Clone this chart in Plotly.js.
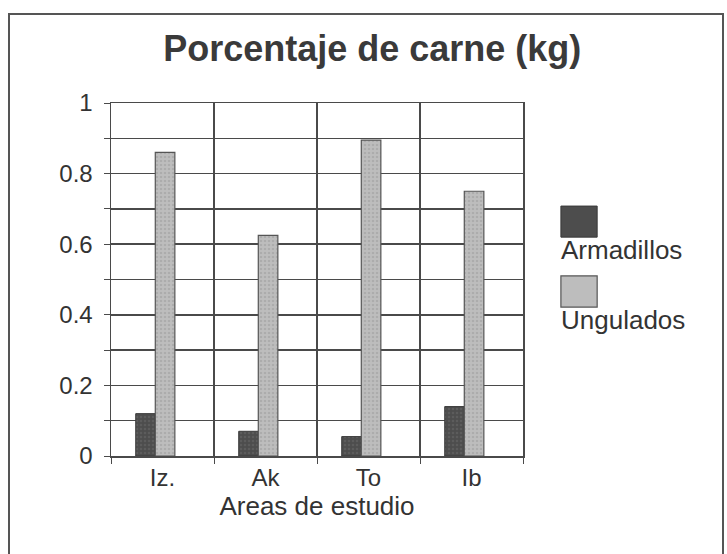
<!DOCTYPE html>
<html>
<head>
<meta charset="utf-8">
<script src="https://cdn.plot.ly/plotly-3.0.1.min.js"></script>
<style>
html,body{margin:0;padding:0;background:#fff;}
#frame{position:absolute;left:8px;top:13px;width:716px;height:545px;border:2px solid #555;box-sizing:border-box;}
#chart{position:absolute;left:0;top:0;width:727px;height:554px;}
</style>
</head>
<body>
<div id="frame"></div>
<div id="chart"></div>
<script>
const categories = ["Iz.", "Ak", "To", "Ib"];
const armadillos = [0.12, 0.07, 0.055, 0.14];
const ungulados = [0.86, 0.625, 0.895, 0.75];
const seriesNames = ["Armadillos", "Ungulados"];
const yGridVals = [0, 0.1, 0.2, 0.3, 0.4, 0.5, 0.6, 0.7, 0.8, 0.9, 1];
const yTickText = ["0", "", "0.2", "", "0.4", "", "0.6", "", "0.8", "", "1"];

const darkColor = "#4d4d4d";
const lightColor = "#bdbdbd";
const txt = "#333333";
const grid = "#4a4a4a";
const font = "Liberation Sans, Arial, sans-serif";

const traces = [
  {type: "bar", x: categories, y: armadillos, name: seriesNames[0],
   width: 0.19, offset: -0.26,
   marker: {color: darkColor, line: {color: "#3a3a3a", width: 1},
            pattern: {shape: ".", fillmode: "overlay", fgcolor: "#6a6a6a", size: 4, solidity: 0.3}}},
  {type: "bar", x: categories, y: ungulados, name: seriesNames[1],
   width: 0.19, offset: -0.07,
   marker: {color: lightColor, line: {color: "#555555", width: 1.2},
            pattern: {shape: ".", fillmode: "overlay", fgcolor: "#9a9a9a", size: 4, solidity: 0.3}}}
];

const layout = {
  width: 727, height: 554,
  paper_bgcolor: "rgba(0,0,0,0)", plot_bgcolor: "#fff",
  margin: {l: 111, r: 204, t: 103, b: 98},
  showlegend: false,
  font: {family: font, color: txt, size: 24},
  title: {text: "<b>Porcentaje de carne (kg)</b>", font: {family: font, size: 36, color: "#3a3a3a"},
          x: 0.512, xanchor: "center", xref: "container", y: 0.913, yanchor: "middle", yref: "container"},
  xaxis: {type: "category", tickson: "boundaries", showgrid: true, gridcolor: grid, gridwidth: 1.5,
          ticks: "outside", ticklen: 6, tickcolor: grid, showline: true, linecolor: grid, linewidth: 1.5, mirror: true,
          tickfont: {size: 24, color: txt},
          title: {text: "Areas de estudio", font: {size: 26, color: txt}, standoff: 2}},
  yaxis: {range: [0, 1], tickvals: yGridVals, ticktext: yTickText, showgrid: true, gridcolor: grid, gridwidth: 1.5,
          ticks: "outside", ticklen: 6, tickcolor: grid, zeroline: false,
          showline: true, linecolor: grid, linewidth: 1.5, mirror: true,
          tickfont: {size: 24, color: txt}, ticklabelstandoff: 6},
  bargap: 0, bargroupgap: 0,
  shapes: [
    {type: "rect", xref: "paper", yref: "paper", x0: 1.092, x1: 1.18, y0: 0.62, y1: 0.708,
     fillcolor: darkColor, line: {color: "#3a3a3a", width: 1}},
    {type: "rect", xref: "paper", yref: "paper", x0: 1.092, x1: 1.18, y0: 0.422, y1: 0.51,
     fillcolor: lightColor, line: {color: "#555", width: 1.2}}
  ],
  annotations: [
    {text: seriesNames[0], xref: "paper", yref: "paper", x: 1.088, y: 0.584, xanchor: "left", yanchor: "middle",
     showarrow: false, font: {size: 26, color: txt}},
    {text: seriesNames[1], xref: "paper", yref: "paper", x: 1.088, y: 0.385, xanchor: "left", yanchor: "middle",
     showarrow: false, font: {size: 26, color: txt}}
  ]
};

Plotly.newPlot("chart", traces, layout, {displayModeBar: false, staticPlot: true});
</script>
</body>
</html>
